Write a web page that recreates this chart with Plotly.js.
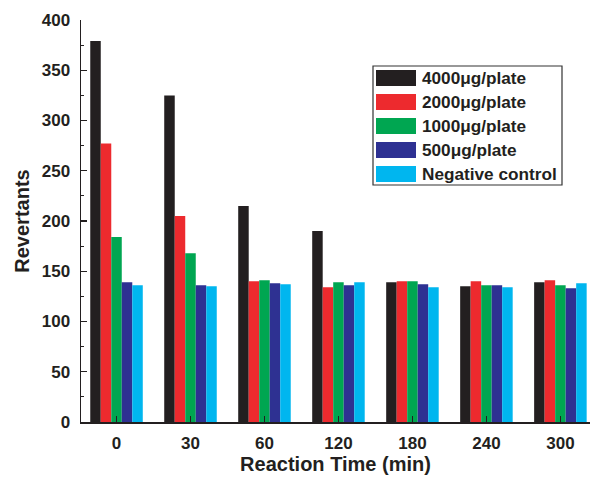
<!DOCTYPE html>
<html>
<head>
<meta charset="utf-8">
<script src="https://cdn.plot.ly/plotly-3.0.1.min.js"></script>
<style>html,body{margin:0;padding:0;background:#fff;}#chart{width:595px;height:479px;}</style>
</head>
<body>
<div id="chart"></div>
<script>
var categories = ["0", "30", "60", "120", "180", "240", "300"];
var seriesNames = ["4000\u03bcg/plate", "2000\u03bcg/plate", "1000\u03bcg/plate", "500\u03bcg/plate", "Negative control"];
var s4000 = [379, 325, 215, 190, 139, 135, 139];
var s2000 = [277, 205, 140, 134, 140, 140, 141];
var s1000 = [184, 168, 141, 139, 140, 136, 136];
var s500  = [139, 136, 138, 136, 137, 136, 133];
var sNeg  = [136, 135, 137, 139, 134, 134, 138];
var colors = ["#231f20", "#ed2a2e", "#00a651", "#2e3192", "#00b6ef"];
var yTicks = [0, 50, 100, 150, 200, 250, 300, 350, 400];

(function () {
  var seriesValues = [s4000, s2000, s1000, s500, sNeg];
  var traces = seriesValues.map(function (vals, i) {
    return {
      type: 'bar',
      x: categories,
      y: vals,
      name: seriesNames[i],
      marker: {color: colors[i], line: {width: 0}},
      showlegend: false
    };
  });

  // plot area in pixels
  var L = 81, R = 590, T = 20, B = 422;
  function px(x) { return (x - L) / (R - L); }
  function py(y) { return (B - y) / (B - T); }

  var shapes = [];
  var annotations = [];
  // custom legend (box + swatches + labels)
  shapes.push({type: 'rect', xref: 'paper', yref: 'paper', x0: px(373), x1: px(562), y0: py(185), y1: py(66),
    line: {color: '#333', width: 1.2}, fillcolor: 'rgba(255,255,255,1)', layer: 'above'});
  for (var i = 0; i < seriesNames.length; i++) {
    var rowTop = 70 + i * 24;
    shapes.push({type: 'rect', xref: 'paper', yref: 'paper', x0: px(376), x1: px(416), y0: py(rowTop + 16), y1: py(rowTop),
      line: {width: 0}, fillcolor: colors[i], layer: 'above'});
    annotations.push({xref: 'paper', yref: 'paper', x: px(421), y: py(rowTop + 8), xanchor: 'left', yanchor: 'middle',
      text: seriesNames[i], showarrow: false, borderpad: 0,
      font: {family: 'Liberation Sans, Arial, sans-serif', size: 17.2, color: '#231f20', weight: 'bold'}});
  }

  var fontBold = {family: 'Liberation Sans, Arial, sans-serif', size: 17, color: '#231f20', weight: 'bold'};

  var layout = {
    width: 595, height: 479,
    margin: {l: L, r: 595 - R, t: T, b: 479 - B, pad: 0},
    paper_bgcolor: '#fff', plot_bgcolor: '#fff',
    barmode: 'group', bargap: 0.29, bargroupgap: 0,
    showlegend: false,
    xaxis: {
      type: 'category',
      range: [-0.48, 6.40],
      showgrid: false, zeroline: false,
      showline: true, linecolor: '#231f20', linewidth: 1.5,
      ticks: 'inside', ticklen: 6, tickwidth: 1.2, tickcolor: '#231f20',
      ticklabelstandoff: 5,
      tickfont: fontBold,
      title: {text: 'Reaction Time (min)', font: {family: 'Liberation Sans, Arial, sans-serif', size: 20, color: '#231f20', weight: 'bold'}, standoff: 4}
    },
    yaxis: {
      range: [0, 400],
      tickvals: yTicks,
      ticktext: yTicks.map(String),
      showgrid: false, zeroline: false,
      showline: true, linecolor: '#231f20', linewidth: 1.5,
      ticks: 'inside', ticklen: 6, tickwidth: 1.2, tickcolor: '#231f20',
      minor: {dtick: 25, tick0: 25, ticks: 'inside', ticklen: 3, tickwidth: 1, tickcolor: '#231f20', showgrid: false},
      ticklabelstandoff: 6,
      tickfont: fontBold,
      title: {text: 'Revertants', font: {family: 'Liberation Sans, Arial, sans-serif', size: 20, color: '#231f20', weight: 'bold'}, standoff: 6}
    },
    shapes: shapes,
    annotations: annotations
  };

  Plotly.newPlot('chart', traces, layout, {displayModeBar: false, staticPlot: true});
})();
</script>
</body>
</html>
